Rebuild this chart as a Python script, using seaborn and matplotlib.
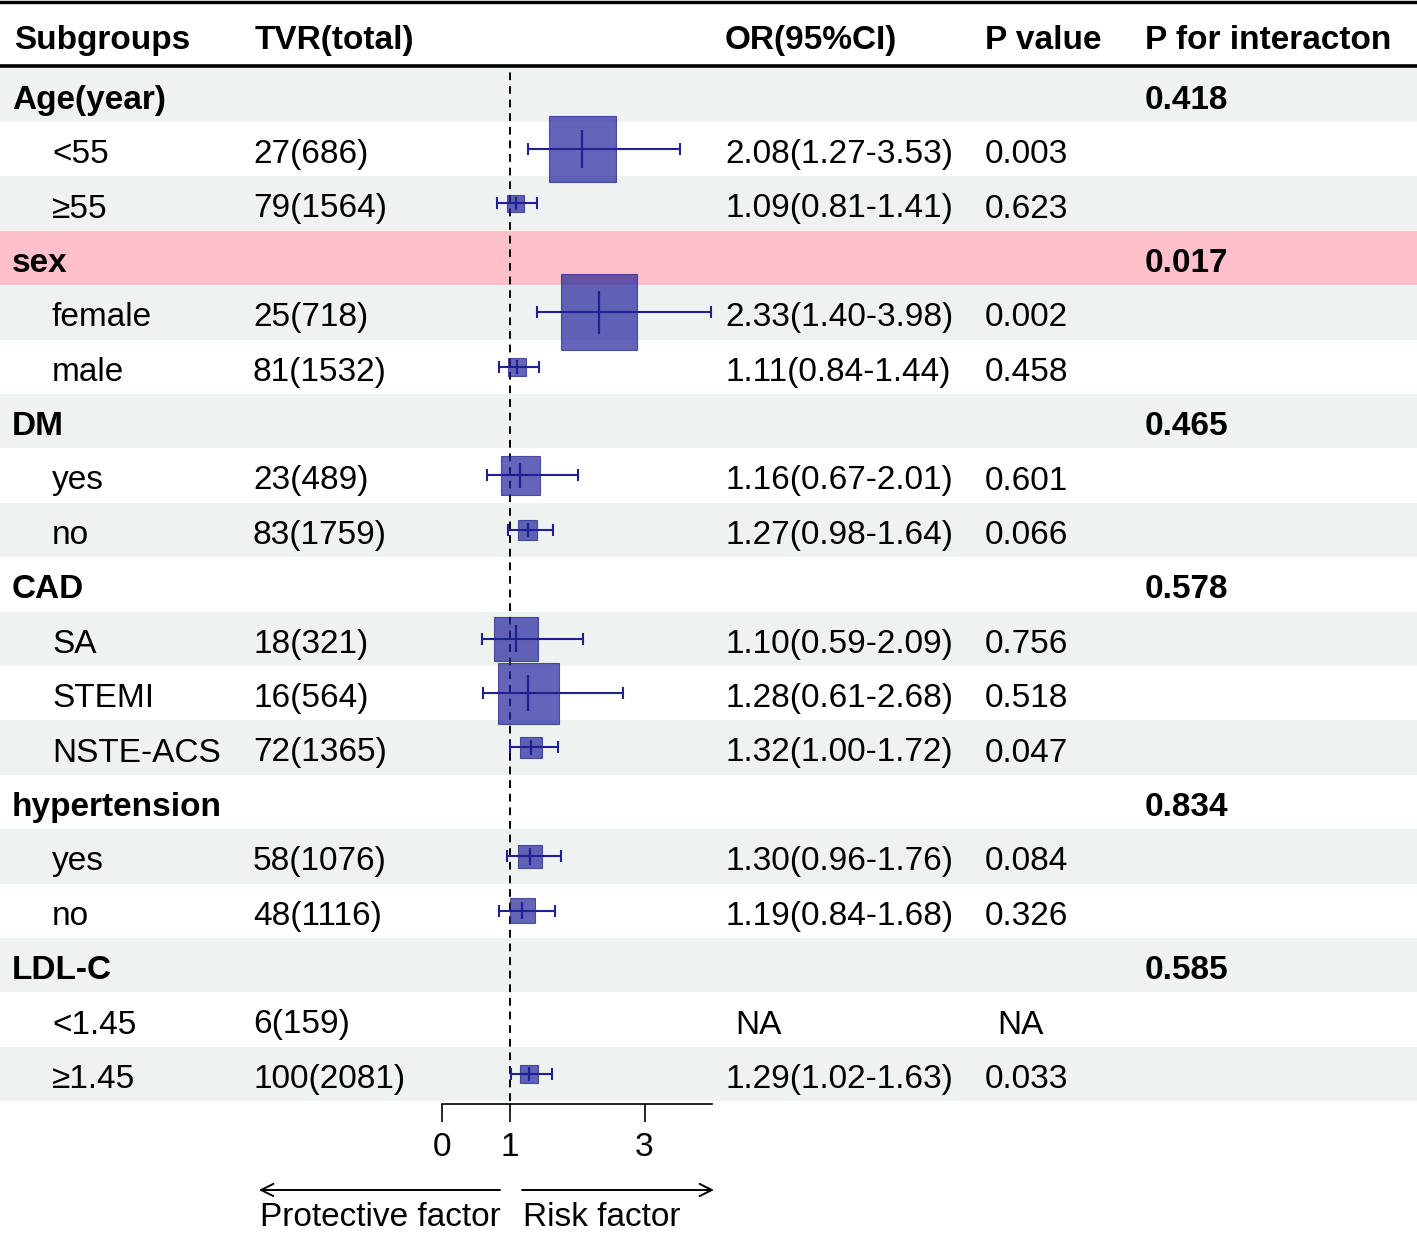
import numpy as np
import pandas as pd
import matplotlib
matplotlib.use("Agg")
import matplotlib.pyplot as plt
import seaborn as sns

# Subgroup rows, top to bottom
labels = ["Age(year)", "<55", "≥55", "sex", "female", "male", "DM", "yes", "no",
          "CAD", "SA", "STEMI", "NSTE-ACS", "hypertension", "yes", "no",
          "LDL-C", "<1.45", "≥1.45"]
is_group = [True, False, False, True, False, False, True, False, False,
            True, False, False, False, True, False, False, True, False, False]
tvr_total = ["", "27(686)", "79(1564)", "", "25(718)", "81(1532)", "", "23(489)", "83(1759)",
             "", "18(321)", "16(564)", "72(1365)", "", "58(1076)", "48(1116)",
             "", "6(159)", "100(2081)"]
nan = np.nan
odds_ratio = [nan, 2.08, 1.09, nan, 2.33, 1.11, nan, 1.16, 1.27,
              nan, 1.10, 1.28, 1.32, nan, 1.30, 1.19, nan, nan, 1.29]
ci_low = [nan, 1.27, 0.81, nan, 1.40, 0.84, nan, 0.67, 0.98,
          nan, 0.59, 0.61, 1.00, nan, 0.96, 0.84, nan, nan, 1.02]
ci_high = [nan, 3.53, 1.41, nan, 3.98, 1.44, nan, 2.01, 1.64,
           nan, 2.09, 2.68, 1.72, nan, 1.76, 1.68, nan, nan, 1.63]
p_value = ["", "0.003", "0.623", "", "0.002", "0.458", "", "0.601", "0.066",
           "", "0.756", "0.518", "0.047", "", "0.084", "0.326", "", "NA", "0.033"]
p_interaction = ["0.418", "", "", "0.017", "", "", "0.465", "", "",
                 "0.578", "", "", "", "0.834", "", "", "0.585", "", ""]
highlight_row = "sex"

df = pd.DataFrame({"label": labels, "group": is_group, "tvr": tvr_total,
                   "or": odds_ratio, "lo": ci_low, "hi": ci_high,
                   "p": p_value, "p_int": p_interaction})
df["row"] = np.arange(len(df))

sns.set_theme(style="white")
plt.rcParams["font.family"] = ["Liberation Sans", "DejaVu Sans"]
plt.rcParams["text.color"] = "black"
plt.rcParams["xtick.color"] = "black"
plt.rcParams["xtick.labelcolor"] = "black"

W, H = 1417, 1234
fig = plt.figure(figsize=(W / 100, H / 100), dpi=100)

# background / table layer in pixel coordinates
bg = fig.add_axes([0, 0, 1, 1])
bg.set_xlim(0, W)
bg.set_ylim(H, 0)
bg.axis("off")

top0, rh = 67.5, 54.4
gray, pink = "#EEF2F0", "#FFC0CB"
for i, lab in enumerate(labels):
    y0 = top0 + i * rh
    if lab == highlight_row and is_group[i]:
        col = pink
    elif i % 2 == 0:
        col = gray
    else:
        col = "white"
    bg.axhspan(y0, y0 + rh, color=col, lw=0, zorder=0)

bg.axhline(2, color="black", lw=2.4)
bg.axhline(66, color="black", lw=2.6)

fs = 24
headers = [("Subgroups", 14), ("TVR(total)", 255), ("OR(95%CI)", 725),
           ("P value", 985), ("P for interacton", 1145)]
for txt, x in headers:
    bg.text(x, 49, txt, fontsize=fs, fontweight="bold", va="baseline", ha="left")

for _, r in df.iterrows():
    yb = top0 + (r["row"] + 0.5) * rh + 14
    if r["group"]:
        bg.text(12, yb, r["label"], fontsize=fs, fontweight="bold", va="baseline")
    else:
        bg.text(52, yb, r["label"], fontsize=fs, va="baseline")
    if r["tvr"]:
        bg.text(253, yb, r["tvr"], fontsize=fs, va="baseline")
    if not np.isnan(r["or"]):
        bg.text(725, yb, f"{r['or']:.2f}({r['lo']:.2f}-{r['hi']:.2f})", fontsize=fs, va="baseline")
    elif r["p"] == "NA":
        bg.text(735, yb, "NA", fontsize=fs, va="baseline")
    if r["p"]:
        bg.text(997 if r["p"] == "NA" else 985, yb, r["p"], fontsize=fs, va="baseline")
    if r["p_int"]:
        bg.text(1145, yb, r["p_int"], fontsize=fs, fontweight="bold", va="baseline")

# arrows and direction labels
arrow_kw = dict(arrowstyle="->", lw=1.4, color="black", mutation_scale=22, shrinkA=0, shrinkB=0)
bg.annotate("", xy=(259, 1190), xytext=(500, 1190), arrowprops=arrow_kw)
bg.annotate("", xy=(714, 1190), xytext=(522, 1190), arrowprops=arrow_kw)
bg.text(260, 1226, "Protective factor", fontsize=fs, va="baseline")
bg.text(523, 1226, "Risk factor", fontsize=fs, va="baseline")

# forest plot axes
x_left, x_right = 442, 712
y_top, y_bot = top0, top0 + len(labels) * rh
ax = fig.add_axes([x_left / W, 1 - y_bot / H, (x_right - x_left) / W, (y_bot - y_top) / H])
ax.patch.set_alpha(0)
ax.set_xlim(0, 4)
ax.set_ylim(len(labels) - 0.5, -0.5)

ax.axvline(1, color="black", ls=(0, (4, 3)), lw=1.4, zorder=1)

est = df.dropna(subset=["or"]).copy()
px_per_unit = (x_right - x_left) / 4.0
box_px = 0.437 * (est["hi"] - est["lo"]) * px_per_unit
est["s"] = (box_px * 0.72) ** 2

line_col = "#1F1F96"
sns.scatterplot(data=est, x="or", y="row", marker="s", s=est["s"].values,
                color="#23239C", alpha=0.7, edgecolor="#1F1F8A", linewidth=0.8,
                ax=ax, zorder=2, legend=False)
ax.errorbar(est["or"], est["row"], xerr=[est["or"] - est["lo"], est["hi"] - est["or"]],
            fmt="none", ecolor=line_col, elinewidth=1.5, capsize=4, capthick=1.5, zorder=3)
tick_h = (0.5 * box_px + 5) / rh
ax.vlines(est["or"], est["row"] - tick_h / 2, est["row"] + tick_h / 2,
          color=line_col, lw=1.6, zorder=4)

for side in ["top", "right", "left"]:
    ax.spines[side].set_visible(False)
ax.spines["bottom"].set_position(("outward", 2))
ax.spines["bottom"].set_color("black")
ax.spines["bottom"].set_linewidth(1.2)
ax.set_yticks([])
ax.set_xticks([0, 1, 3])
ax.set_xticklabels(["0", "1", "3"])
ax.tick_params(axis="x", direction="out", length=13, width=1.2, color="black",
               labelsize=fs, labelcolor="black", pad=7, bottom=True)
ax.set_xlabel("")
ax.set_ylabel("")

fig.savefig("out.png", dpi=100)
